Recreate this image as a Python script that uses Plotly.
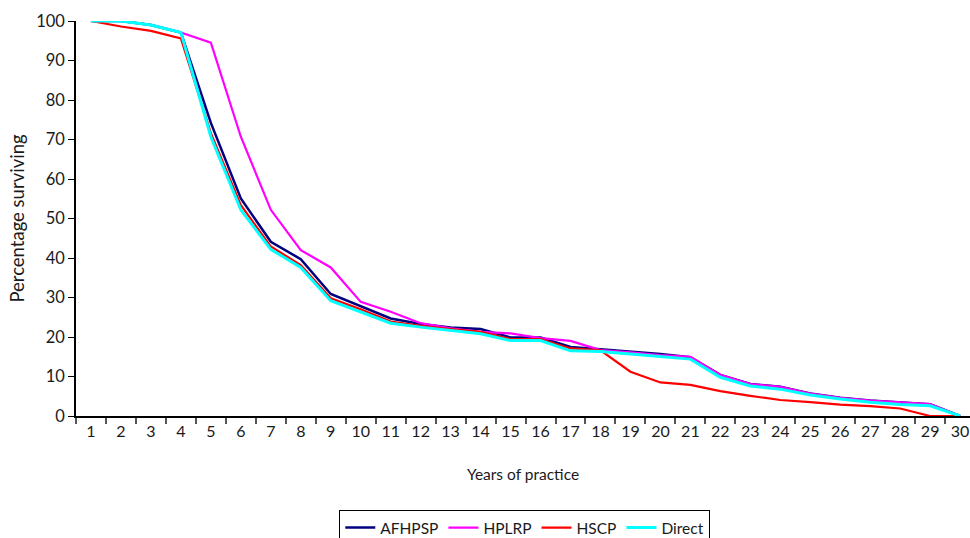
import plotly.graph_objects as go

years = list(range(1, 31))

afhpsp = [100, 100, 99, 97.1, 74.2, 55.1, 44.1, 39.7, 30.9, 27.9,
          24.7, 23.3, 22.4, 22.0, 19.9, 19.9, 17.5, 16.9, 16.3, 15.7,
          14.9, 10.4, 8.1, 7.4, 5.7, 4.6, 3.9, 3.4, 3.0, 0]
hplrp = [100, 100, 99, 97.1, 94.5, 70.7, 52.2, 42.0, 37.6, 28.9,
         26.4, 23.5, 22.2, 21.3, 20.9, 19.7, 19.0, 16.7, 16.1, 15.4,
         15.0, 10.4, 8.1, 7.4, 5.7, 4.6, 3.9, 3.4, 3.0, 0]
hscp = [100, 98.6, 97.5, 95.6, 71.6, 53.4, 42.9, 38.2, 29.8, 27.0,
        23.9, 22.8, 22.0, 21.3, 19.5, 19.5, 17.1, 16.6, 11.2, 8.5,
        7.9, 6.3, 5.1, 4.05, 3.5, 2.9, 2.5, 1.9, 0, 0]
direct = [100, 100, 99, 97.1, 70.7, 52.2, 42.2, 37.6, 29.2, 26.4,
          23.5, 22.5, 21.6, 20.8, 19.1, 19.1, 16.5, 16.3, 15.7, 15.0,
          14.4, 9.8, 7.6, 6.8, 5.3, 4.3, 3.5, 2.9, 2.6, 0]

series = [
    ("AFHPSP", afhpsp, "#000080", 2.5),
    ("HPLRP", hplrp, "#ff00ff", 2.2),
    ("HSCP", hscp, "#ff0000", 2.2),
    ("Direct", direct, "#00ffff", 3),
]

FONT = "Lato, 'Open Sans', sans-serif"
TXT = "#1a1a1a"

fig = go.Figure()
for name, vals, color, width in series:
    fig.add_trace(go.Scatter(
        x=years, y=vals, name=name, mode="lines",
        line=dict(color=color, width=width),
    ))

fig.update_layout(
    width=970, height=538,
    margin=dict(l=76, r=0, t=21, b=122),
    paper_bgcolor="white", plot_bgcolor="white",
    font=dict(family=FONT, size=16, color=TXT),
    showlegend=True,
    legend=dict(
        orientation="h",
        x=0.541, xanchor="center", xref="container",
        y=0.052, yanchor="top", yref="container",
        bordercolor="#000000", borderwidth=1,
        font=dict(size=15.5, color=TXT),
        itemwidth=30,
        tracegroupgap=0,
    ),
)

fig.update_xaxes(
    range=[0.5, 30.33],
    tickmode="array", tickvals=years, ticktext=[str(y) for y in years],
    ticks="", showgrid=False, zeroline=False,
    showline=True, linecolor="#000000", linewidth=1.5,
    tickfont=dict(size=16, color=TXT),
    minor=dict(ticks="outside", tick0=0.5, dtick=1, ticklen=6,
               tickcolor="#555555", tickwidth=1.5, showgrid=False),
    title=dict(text="Years of practice", font=dict(size=15.5, color=TXT), standoff=30),
)

fig.update_yaxes(
    range=[0, 100], tickmode="linear", tick0=0, dtick=10,
    ticks="outside", ticklen=6, tickcolor="#000000", tickwidth=1,
    showgrid=False, zeroline=False,
    showline=True, linecolor="#000000", linewidth=1.5,
    tickfont=dict(size=16.5, color=TXT),
    title=dict(text="Percentage surviving", font=dict(size=18.5, color=TXT), standoff=7),
)

fig.write_html("out.html")
